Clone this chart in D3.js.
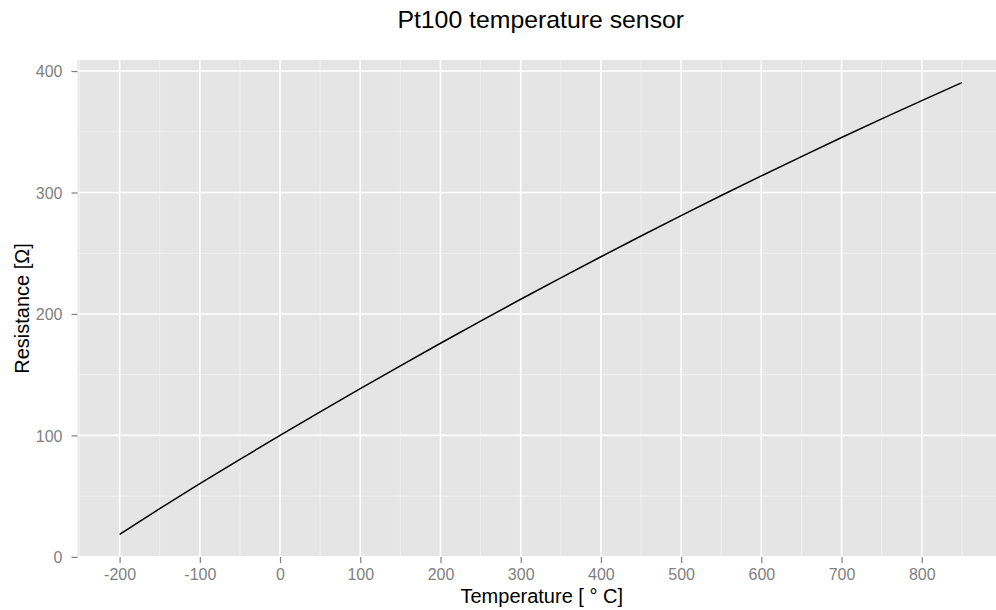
<!DOCTYPE html>
<html>
<head>
<meta charset="utf-8">
<script src="https://cdn.jsdelivr.net/npm/d3@7"></script>
<style>
  body { margin: 0; background: #fff; }
  svg { display: block; font-family: "Liberation Sans", Arial, sans-serif; }
</style>
</head>
<body>
<svg id="chart" width="996" height="610"></svg>
<script>
// Pt100 curve (every 50 °C)
const temperature = [-200, -150, -100, -50, 0, 50, 100, 150, 200, 250, 300, 350,
                     400, 450, 500, 550, 600, 650, 700, 750, 800, 850];
const resistance = [18.5, 39.7, 60.3, 80.3, 100.0, 119.4, 138.5, 157.3, 175.9, 194.1, 212.1, 229.7,
                    247.1, 264.2, 281.0, 297.5, 313.7, 329.6, 345.3, 360.6, 375.7, 390.5];
const xTicks = [-200, -100, 0, 100, 200, 300, 400, 500, 600, 700, 800];
const yTicks = [0, 100, 200, 300, 400];

const data = temperature.map((t, i) => ({ t: t, r: resistance[i] }));

const svg = d3.select("#chart");
const width = 996, height = 610;
const margin = { top: 60, right: -8, bottom: 53, left: 77.5 };

// ggplot-ish 5% expansion
const xExt = d3.extent(temperature), xPad = (xExt[1] - xExt[0]) * 0.05;
const yExt = d3.extent(resistance), yPad = (yExt[1] - yExt[0]) * 0.05;

const x = d3.scaleLinear()
    .domain([xExt[0] - xPad, xExt[1] + xPad])
    .range([margin.left, width - margin.right]);

const y = d3.scaleLinear()
    .domain([yExt[0] - yPad, yExt[1] + yPad])
    .range([height - margin.bottom, margin.top]);

// panel background
svg.append("rect")
    .attr("x", margin.left)
    .attr("y", margin.top)
    .attr("width", width - margin.right - margin.left)
    .attr("height", height - margin.bottom - margin.top)
    .attr("fill", "#e5e5e5");

// minor grid
const xMinor = xTicks.map(d => d - 50).concat([850]).filter(d => d >= x.domain()[0] && d <= x.domain()[1]);
const yMinor = yTicks.map(d => d + 50).filter(d => d <= y.domain()[1]);

const grid = svg.append("g");
grid.selectAll(".xminor").data(xMinor).join("line")
    .attr("x1", d => x(d)).attr("x2", d => x(d))
    .attr("y1", margin.top).attr("y2", height - margin.bottom)
    .attr("stroke", "#f2f2f2").attr("stroke-width", 0.8);
grid.selectAll(".yminor").data(yMinor).join("line")
    .attr("x1", margin.left).attr("x2", width - margin.right)
    .attr("y1", d => y(d)).attr("y2", d => y(d))
    .attr("stroke", "#f2f2f2").attr("stroke-width", 0.8);

// major grid
grid.selectAll(".xmajor").data(xTicks).join("line")
    .attr("x1", d => x(d)).attr("x2", d => x(d))
    .attr("y1", margin.top).attr("y2", height - margin.bottom)
    .attr("stroke", "#fff").attr("stroke-width", 1.6);
grid.selectAll(".ymajor").data(yTicks).join("line")
    .attr("x1", margin.left).attr("x2", width - margin.right)
    .attr("y1", d => y(d)).attr("y2", d => y(d))
    .attr("stroke", "#fff").attr("stroke-width", 1.6);

// axes (plain hyphen for negatives, like R)
const fmt = d => String(d);

const xAxis = svg.append("g")
    .attr("transform", `translate(0,${height - margin.bottom})`)
    .call(d3.axisBottom(x).tickValues(xTicks).tickFormat(fmt).tickSize(6).tickPadding(5.5).tickSizeOuter(0));
xAxis.select(".domain").remove();

const yAxis = svg.append("g")
    .attr("transform", `translate(${margin.left},0)`)
    .call(d3.axisLeft(y).tickValues(yTicks).tickFormat(fmt).tickSize(6).tickPadding(9).tickSizeOuter(0));
yAxis.select(".domain").remove();

svg.selectAll(".tick line").attr("stroke", "#7f7f7f").attr("stroke-width", 1.2);
svg.selectAll(".tick text")
    .attr("fill", "#7f7f7f")
    .style("font-size", "16px")
    .style("font-family", "Liberation Sans, Arial, sans-serif");
yAxis.selectAll(".tick text").attr("dy", "0.36em");

// the curve
svg.append("path")
    .datum(data)
    .attr("fill", "none")
    .attr("stroke", "#000")
    .attr("stroke-width", 1.5)
    .attr("d", d3.line().x(d => x(d.t)).y(d => y(d.r)));

// titles
const cx = (margin.left + width - margin.right) / 2;
svg.append("text")
    .attr("x", cx).attr("y", 28)
    .attr("text-anchor", "middle")
    .style("font-size", "24.8px")
    .text("Pt100 temperature sensor");

svg.append("text")
    .attr("x", cx + 1).attr("y", 603)
    .attr("text-anchor", "middle")
    .style("font-size", "20px")
    .text("Temperature [ ° C]");

svg.append("text")
    .attr("transform", `translate(28.5,${(margin.top + height - margin.bottom) / 2}) rotate(-90)`)
    .attr("text-anchor", "middle")
    .style("font-size", "20px")
    .text("Resistance [Ω]");
</script>
</body>
</html>
